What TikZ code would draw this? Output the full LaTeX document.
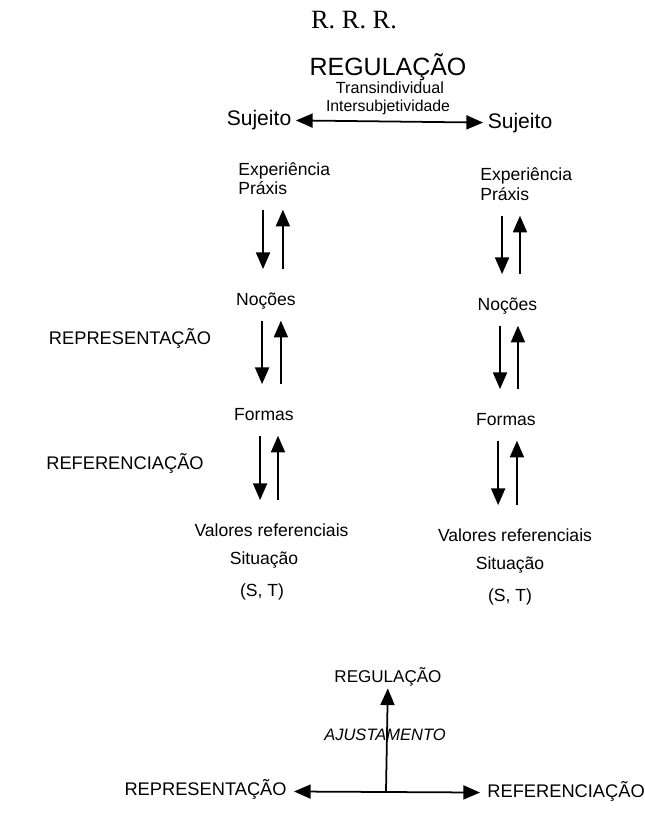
\documentclass[tikz,border=0pt]{standalone}
\usepackage{fontspec}
\setmainfont{Liberation Sans}
\newfontfamily\rrrfont{Liberation Serif}
\usetikzlibrary{positioning,calc,arrows.meta}

\begin{document}
\begin{tikzpicture}[>={Triangle[length=9.5pt,width=8pt]}]
	\begin{scope}[x=0.02cm, y=-0.02cm]
		\tikzstyle{every node}=[align=center, inner sep=1pt]
		\tikzstyle{lbl}=[font=\fontsize{10}{12}\selectfont, text height=7.2pt, text depth=2pt, inner sep=0pt]
		\tikzstyle{sidelbl}=[font=\fontsize{10.4}{12}\selectfont, text height=7.5pt, text depth=2pt]
		\tikzstyle{arr}=[line width=1pt]
		\tikzstyle{dnarr}=[arr, ->, shorten <=6.2pt, shorten >=13.6pt]
		\tikzstyle{uparr}=[arr, ->, shorten <=13.6pt, shorten >=6.2pt]
		\useasboundingbox (0, 0) rectangle (645, 814);

		% top
		\node (rrr)  at (354, 20)  {\rrrfont\fontsize{15}{18}\selectfont R. R. R.};
		\node (reg1) at (388, 67)  {\fontsize{14.2}{17}\selectfont REGULAÇÃO};
		\node (tra)  at (390, 88)  {\fontsize{9.2}{11}\selectfont Transindividual};
		\node (int)  at (388, 107) {\fontsize{9}{11}\selectfont Intersubjetividade};
		\node (suj1) at (259, 120) [inner sep=2.5pt] {\fontsize{12}{14}\selectfont Sujeito};
		\node (suj2) at (520, 123) [inner sep=2.5pt] {\fontsize{12}{14}\selectfont Sujeito};

		\draw [arr, <->] (suj1) to (suj2);

		% left column
		\node (exp1) at (238, 171.4) [lbl, anchor=west] {Experiência};
		\node (pra1) at (238, 190.4) [lbl, anchor=west] {Práxis};
		\node (noc1) at (266, 301.4) [lbl] {Noções};
		\node (for1) at (264, 416.4) [lbl] {Formas};
		\node (val1) at (271.5, 532.4) [lbl] {Valores referenciais};
		\node (sit1) at (264, 560.4) [lbl] {Situação};
		\node (st1)  at (262, 592.4) [lbl] {(S, T)};

		\node (rep1) at (130, 340) [sidelbl] {REPRESENTAÇÃO};
		\node (ref1) at (125, 465) [sidelbl] {REFERENCIAÇÃO};

		\draw [dnarr, transform canvas={xshift=-1.7pt}] (pra1.south -| noc1) to (noc1.north);
		\draw [uparr, transform canvas={xshift=9.6pt}] (noc1.north) to (pra1.south -| noc1);

		\draw [dnarr, transform canvas={xshift=-1.1pt}] (noc1.south -| for1) to (for1.north);
		\draw [uparr, transform canvas={xshift=9.6pt}] (for1.north) to (noc1.south -| for1);

		\draw [dnarr, transform canvas={xshift=-6.5pt}] (for1.south -| val1) to (val1.north);
		\draw [uparr, transform canvas={xshift=3.7pt}] (val1.north) to (for1.south -| val1);

		% right column
		\node (exp2) at (480, 176.4) [lbl, anchor=west] {Experiência};
		\node (pra2) at (480, 196.4) [lbl, anchor=west] {Práxis};
		\node (noc2) at (507.5, 306.4) [lbl] {Noções};
		\node (for2) at (506, 421.4) [lbl] {Formas};
		\node (val2) at (515, 537.4) [lbl] {Valores referenciais};
		\node (sit2) at (510, 565.4) [lbl] {Situação};
		\node (st2)  at (510, 597.4) [lbl] {(S, T)};

		\draw [dnarr, transform canvas={xshift=-3.1pt}] (pra2.south -| noc2) to (noc2.north);
		\draw [uparr, transform canvas={xshift=7.1pt}] (noc2.north) to (pra2.south -| noc2);

		\draw [dnarr, transform canvas={xshift=-3.4pt}] (noc2.south -| for2) to (for2.north);
		\draw [uparr, transform canvas={xshift=6.8pt}] (for2.north) to (noc2.south -| for2);

		\draw [dnarr, transform canvas={xshift=-9.6pt}] (for2.south -| val2) to (val2.north);
		\draw [uparr, transform canvas={xshift=1.1pt}] (val2.north) to (for2.south -| val2);

		% bottom
		\node (reg2) at (388, 677) {\fontsize{9.7}{12}\selectfont REGULAÇÃO};
		\node (aju)  at (385, 735) {\fontsize{9.4}{12}\selectfont\itshape AJUSTAMENTO};
		\node (rep2) at (294, 791) [sidelbl, anchor=east, inner sep=4pt] {REPRESENTAÇÃO};
		\node (ref2) at (480, 793) [sidelbl, anchor=west, inner sep=4pt] {REFERENCIAÇÃO};
		\coordinate (mid) at (386, 791);

		\draw [arr, <->] (rep2) to (ref2);
		\draw [arr, ->] (mid) to (reg2);
	\end{scope}
\end{tikzpicture}
\end{document}
